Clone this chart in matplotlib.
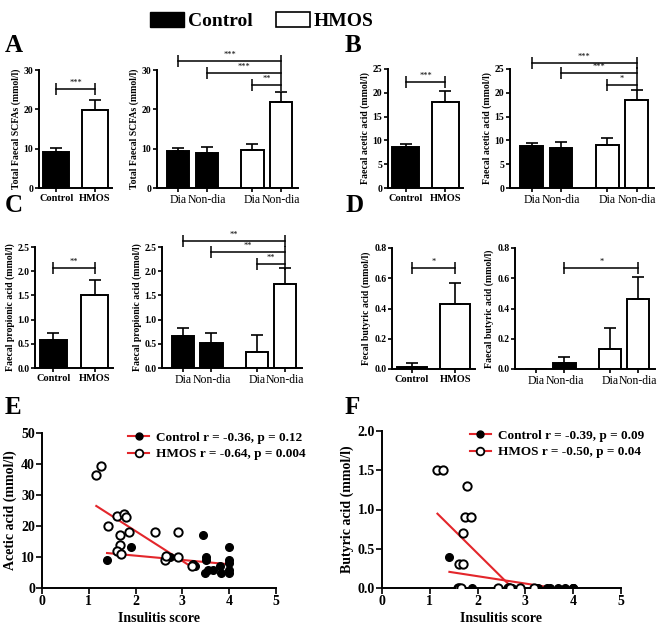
import numpy as np
import matplotlib
matplotlib.use("Agg")
import matplotlib.pyplot as plt
from matplotlib.patches import Patch
from matplotlib.lines import Line2D

plt.rcParams['font.family'] = ['Liberation Serif', 'DejaVu Serif']
plt.rcParams['font.weight'] = 'bold'
plt.rcParams['axes.labelweight'] = 'bold'

# ---- bar data (mean, sem) ----
two_labels = ['Control', 'HMOS']
four_labels = ['Dia', 'Non-dia', 'Dia', 'Non-dia']
two_colors = ['black', 'white']
four_colors = ['black', 'black', 'white', 'white']

scfa_two = [9.2, 19.8]
scfa_two_sem = [1.0, 2.6]
scfa_four = [9.3, 8.8, 9.6, 21.9]
scfa_four_sem = [0.9, 1.5, 1.7, 2.6]

acetic_two = [8.6, 18.1]
acetic_two_sem = [0.7, 2.3]
acetic_four = [8.8, 8.4, 9.0, 18.5]
acetic_four_sem = [0.7, 1.3, 1.4, 2.1]

propionic_two = [0.58, 1.50]
propionic_two_sem = [0.14, 0.31]
propionic_four = [0.66, 0.51, 0.33, 1.73]
propionic_four_sem = [0.17, 0.21, 0.35, 0.34]

butyric_two = [0.015, 0.43]
butyric_two_sem = [0.025, 0.14]
butyric_four = [0.0, 0.04, 0.13, 0.46]
butyric_four_sem = [0.0, 0.04, 0.14, 0.15]

# significance brackets: (bar i, bar j, height, label)
scfa_two_sig = [(0, 1, 25.2, '***')]
scfa_four_sig = [(0, 3, 32.3, '***'), (1, 3, 29.2, '***'), (2, 3, 26.1, '**')]
acetic_two_sig = [(0, 1, 22.2, '***')]
acetic_four_sig = [(0, 3, 26.3, '***'), (1, 3, 24.2, '***'), (2, 3, 21.6, '*')]
propionic_two_sig = [(0, 1, 2.07, '**')]
propionic_four_sig = [(0, 3, 2.62, '**'), (1, 3, 2.40, '**'), (2, 3, 2.15, '**')]
butyric_two_sig = [(0, 1, 0.67, '*')]
butyric_four_sig = [(1, 3, 0.67, '*')]

# ---- scatter data (insulitis score vs acid) ----
e_ctrl_x = [1.39, 1.90, 2.73, 3.22, 3.27, 3.45, 3.50, 3.50, 3.48, 3.55, 3.66, 3.80, 3.83,
            4.0, 4.0, 4.0, 4.0, 4.0]
e_ctrl_y = [9.1, 13.1, 10.0, 7.8, 7.0, 17.0, 9.9, 9.1, 5.0, 5.9, 5.9, 7.0, 5.0,
            13.1, 9.1, 8.0, 5.9, 4.8]
e_hmos_x = [1.16, 1.27, 1.41, 1.60, 1.75, 1.79, 1.67, 1.86, 1.66, 1.60, 1.69, 2.42, 2.90,
            2.63, 2.66, 2.90, 3.20]
e_hmos_y = [36.5, 39.5, 20.1, 23.1, 24.0, 22.9, 17.0, 18.0, 14.0, 12.0, 11.0, 18.0, 18.0,
            9.1, 10.2, 10.0, 7.0]

f_ctrl_x = [1.41, 1.89, 2.72, 3.20, 3.27, 3.45, 3.52, 3.69, 3.83, 4.0, 4.0, 4.0]
f_ctrl_y = [0.4, 0.0, 0.0, 0.0, 0.0, 0.0, 0.0, 0.0, 0.0, 0.0, 0.0, 0.0]
f_hmos_x = [1.16, 1.27, 1.78, 1.74, 1.86, 1.69, 1.62, 1.69, 1.59, 1.62, 1.66, 2.42, 2.63,
            2.66, 2.68, 2.89, 3.17]
f_hmos_y = [1.5, 1.5, 1.3, 0.9, 0.9, 0.7, 0.3, 0.3, 0.0, 0.0, 0.0, 0.0, 0.0,
            0.0, 0.0, 0.0, 0.0]

e_stats = ['Control r = -0.36, p = 0.12', 'HMOS r = -0.64, p = 0.004']
f_stats = ['Control r = -0.39, p = 0.09', 'HMOS r = -0.50, p = 0.04']

W, H = 660, 627
fig = plt.figure(figsize=(W / 100, H / 100), dpi=100)


def px_axes(x0, y0, x1, y1):
    return fig.add_axes([x0 / W, 1 - y1 / H, (x1 - x0) / W, (y1 - y0) / H])


def style(ax):
    for s in ['top', 'right']:
        ax.spines[s].set_visible(False)
    for s in ['left', 'bottom']:
        ax.spines[s].set_linewidth(1.4)
    ax.tick_params(width=1.2, length=3, labelsize=7, pad=1)


def bar_panel(ax, vals, sems, colors, labels, ylim, yticks, ytl, ylabel, sig):
    style(ax)
    if len(vals) == 2:
        pos = np.array([0, 1.0])
        width = 0.68
        ax.set_xlim(-0.45, 1.45)
        tick_kw = dict(fontsize=7.5, fontweight='bold')
    else:
        pos = np.array([0, 1.0, 2.6, 3.6])
        width = 0.78
        ax.set_xlim(-0.75, 4.2)
        tick_kw = dict(fontsize=8.5, fontweight='normal')
    ax.bar(pos, vals, width=width, color=colors, edgecolor='black', linewidth=1.4, zorder=2)
    for p, v, s in zip(pos, vals, sems):
        if s > 0:
            ax.errorbar(p, v, yerr=[[0], [s]], color='black', capsize=4, elinewidth=1.2,
                        capthick=1.2, zorder=3)
    ax.set_ylim(*ylim)
    ax.set_yticks(yticks)
    ax.set_yticklabels(ytl)
    ax.set_xticks(pos)
    ax.set_xticklabels(labels, **tick_kw)
    ax.set_ylabel(ylabel, fontsize=7, labelpad=2)
    for i, j, y, lab in sig:
        ax.plot([pos[i], pos[j]], [y, y], color='black', lw=1.1, clip_on=False)
        ax.plot([pos[i], pos[j]], [y, y], ls='none', marker='|', ms=8, mew=1.1,
                color='black', clip_on=False)
        ax.annotate(lab, ((pos[i] + pos[j]) / 2, y), xytext=(0, 1.5),
                    textcoords='offset points', ha='center', va='bottom',
                    fontsize=6, fontweight='normal', annotation_clip=False)


ax = px_axes(39, 70, 112, 188)
bar_panel(ax, scfa_two, scfa_two_sem, two_colors, two_labels, (0, 30), [0, 10, 20, 30],
          ['0', '10', '20', '30'], 'Total Faecal SCFAs (mmol/l)', scfa_two_sig)
ax = px_axes(157, 70, 298, 188)
bar_panel(ax, scfa_four, scfa_four_sem, four_colors, four_labels, (0, 30), [0, 10, 20, 30],
          ['0', '10', '20', '30'], 'Total Faecal SCFAs (mmol/l)', scfa_four_sig)

ax = px_axes(388, 69, 463, 188)
bar_panel(ax, acetic_two, acetic_two_sem, two_colors, two_labels, (0, 25), [0, 5, 10, 15, 20, 25],
          ['0', '5', '10', '15', '20', '25'], 'Faecal acetic acid (mmol/l)', acetic_two_sig)
ax = px_axes(510, 69, 654, 188)
bar_panel(ax, acetic_four, acetic_four_sem, four_colors, four_labels, (0, 25),
          [0, 5, 10, 15, 20, 25], ['0', '5', '10', '15', '20', '25'],
          'Faecal acetic acid (mmol/l)', acetic_four_sig)

ax = px_axes(35, 247, 113, 368)
bar_panel(ax, propionic_two, propionic_two_sem, two_colors, two_labels, (0, 2.5),
          [0, 0.5, 1.0, 1.5, 2.0, 2.5], ['0.0', '0.5', '1.0', '1.5', '2.0', '2.5'],
          'Faecal propionic acid (mmol/l)', propionic_two_sig)
ax = px_axes(162, 247, 302, 368)
bar_panel(ax, propionic_four, propionic_four_sem, four_colors, four_labels, (0, 2.5),
          [0, 0.5, 1.0, 1.5, 2.0, 2.5], ['0.0', '0.5', '1.0', '1.5', '2.0', '2.5'],
          'Faecal propionic acid (mmol/l)', propionic_four_sig)

ax = px_axes(392, 248, 475, 369)
bar_panel(ax, butyric_two, butyric_two_sem, two_colors, two_labels, (0, 0.8),
          [0, 0.2, 0.4, 0.6, 0.8], ['0.0', '0.2', '0.4', '0.6', '0.8'],
          'Fecal butyric acid (mmol/l)', butyric_two_sig)
ax = px_axes(515, 248, 655, 369)
bar_panel(ax, butyric_four, butyric_four_sem, four_colors, four_labels, (0, 0.8),
          [0, 0.2, 0.4, 0.6, 0.8], ['0.0', '0.2', '0.4', '0.6', '0.8'],
          'Faecal butyric acid (mmol/l)', butyric_four_sig)


def scatter_panel(ax, cx, cy, hx, hy, ylim, yticks, ytl, ylabel, stats):
    style(ax)
    ax.tick_params(labelsize=10, length=4)
    red = '#e3262b'
    for xs, ys in [(cx, cy), (hx, hy)]:
        xs = np.array(xs)
        ys = np.array(ys)
        k, b = np.polyfit(xs, ys, 1)
        xx = np.array([xs.min(), xs.max()])
        ax.plot(xx, k * xx + b, color=red, lw=1.5, zorder=2)
    ax.plot(cx, cy, 'o', color='black', ms=5.5, zorder=3)
    ax.plot(hx, hy, 'o', mfc='white', mec='black', mew=1.4, ms=6, zorder=3)
    ax.set_xlim(0, 5)
    ax.set_xticks([0, 1, 2, 3, 4, 5])
    ax.set_ylim(*ylim)
    ax.set_yticks(yticks)
    ax.set_yticklabels(ytl)
    ax.set_xlabel('Insulitis score', fontsize=10, labelpad=3)
    ax.set_ylabel(ylabel, fontsize=10, labelpad=3)
    handles = [Line2D([], [], color=red, lw=1.5, marker='o', mfc='black', mec='black', ms=5),
               Line2D([], [], color=red, lw=1.5, marker='o', mfc='white', mec='black',
                      mew=1.3, ms=5.5)]
    ax.legend(handles, stats, loc='upper left', bbox_to_anchor=(0.34, 1.05), frameon=False,
              fontsize=9.5, handlelength=1.6, handletextpad=0.5, borderpad=0,
              labelspacing=0.3)


ax = px_axes(42, 433, 276, 588)
scatter_panel(ax, e_ctrl_x, e_ctrl_y, e_hmos_x, e_hmos_y, (0, 50), [0, 10, 20, 30, 40, 50],
              ['0', '10', '20', '30', '40', '50'], 'Acetic acid (mmol/l)', e_stats)
ax = px_axes(382, 431, 621, 588)
scatter_panel(ax, f_ctrl_x, f_ctrl_y, f_hmos_x, f_hmos_y, (0, 2.0),
              [0, 0.5, 1.0, 1.5, 2.0], ['0.0', '0.5', '1.0', '1.5', '2.0'],
              'Butyric acid (mmol/l)', f_stats)

# panel letters
for lab, x, y in [('A', 5, 45), ('B', 345, 45), ('C', 5, 205), ('D', 345, 205),
                  ('E', 5, 408), ('F', 345, 408)]:
    fig.text(x / W, 1 - y / H, lab, fontsize=18, fontweight='bold', va='center', ha='left')

fig.legend([Patch(facecolor='black', edgecolor='black'),
            Patch(facecolor='white', edgecolor='black', linewidth=1.2)],
           ['Control', 'HMOS'], loc='upper left', bbox_to_anchor=(140 / W, 1 - 2 / H),
           ncol=2, frameon=False, fontsize=14, handlelength=1.75, handleheight=0.8,
           handletextpad=0.2, columnspacing=1.2, borderpad=0)

fig.savefig('out.png', dpi=100)
